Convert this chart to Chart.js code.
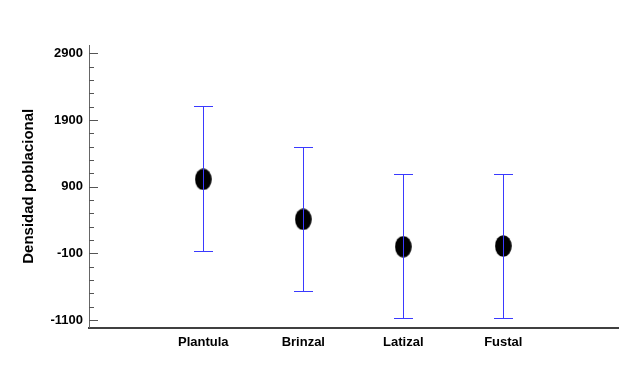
<!DOCTYPE html>
<html>
<head>
<meta charset="utf-8">
<script src="https://cdn.jsdelivr.net/npm/chart.js@4"></script>
<style>
  body { margin: 0; background: #fff; }
</style>
</head>
<body>
<canvas id="chart" width="631" height="392"></canvas>
<script>
const categories = ['Plantula', 'Brinzal', 'Latizal', 'Fustal'];
const means = [1010, 410, 0, 10];
const upper = [2110, 1500, 1085, 1095];
const lower = [-60, -660, -1065, -1065];
const yTicks = [-1100, -100, 900, 1900, 2900];

// black oval marker
const dot = document.createElement('canvas');
dot.width = 17; dot.height = 22;
const dctx = dot.getContext('2d');
dctx.fillStyle = '#000';
dctx.beginPath();
dctx.ellipse(8.5, 11, 8.3, 10.8, 0, 0, 2 * Math.PI);
dctx.fill();

const errorBars = {
  id: 'errorBars',
  afterDatasetsDraw(chart) {
    const { ctx, chartArea, scales: { x, y } } = chart;
    ctx.save();
    ctx.fillStyle = '#3a3aff';
    categories.forEach((c, i) => {
      const px = Math.round(x.getPixelForValue(i + 1));
      const top = Math.round(y.getPixelForValue(upper[i]));
      const bot = Math.round(y.getPixelForValue(lower[i]));
      // whisker and caps as 1px rects
      ctx.fillRect(px, top, 1, bot - top + 1);
      ctx.fillRect(px - 9, top, 19, 1);
      ctx.fillRect(px - 9, bot, 19, 1);
    });

    // tick marks point inward, with 4 minor ones between majors
    ctx.fillStyle = '#555';
    const step = (yTicks[1] - yTicks[0]) / 5;
    const left = chartArea.left;
    yTicks.forEach((v, k) => {
      ctx.fillRect(left, Math.round(y.getPixelForValue(v)), 9, 1);
      if (k < yTicks.length - 1) {
        for (let m = 1; m < 5; m++) {
          ctx.fillRect(left, Math.round(y.getPixelForValue(v + m * step)), 5, 1);
        }
      }
    });
    ctx.restore();
  }
};

new Chart(document.getElementById('chart'), {
  type: 'scatter',
  data: {
    datasets: [{
      data: categories.map((c, i) => ({ x: i + 1, y: means[i] })),
      pointStyle: dot,
      showLine: false
    }]
  },
  plugins: [errorBars],
  options: {
    responsive: false,
    animation: false,
    layout: { padding: { left: 0, top: 45, right: 13, bottom: 0 } },
    plugins: { legend: { display: false }, tooltip: { enabled: false } },
    scales: {
      x: {
        type: 'linear',
        min: -0.143,
        max: 5.147,
        afterFit: (s) => { s.height = 64.5; },
        grid: { display: false, drawTicks: false },
        border: { display: true, color: '#404040', width: 2 },
        ticks: {
          stepSize: 1,
          autoSkip: false,
          maxRotation: 0,
          padding: 7,
          color: '#000',
          font: { family: 'Liberation Sans, Arial', size: 13, weight: 'bold' },
          callback: (v) => categories[v - 1] || ''
        }
      },
      y: {
        min: -1212,
        max: 3025,
        afterBuildTicks: (s) => { s.ticks = yTicks.map(v => ({ value: v })); },
        afterFit: (s) => { s.width = 89; },
        grid: { display: false, drawTicks: false },
        border: { display: true, color: '#666', width: 1 },
        ticks: {
          padding: 6,
          color: '#000',
          font: { family: 'Liberation Sans, Arial', size: 13, weight: 'bold' },
          callback: (v) => String(v)
        },
        title: {
          display: true,
          text: 'Densidad poblacional',
          color: '#000',
          padding: { top: 20, bottom: 0 },
          font: { family: 'Liberation Sans, Arial', size: 15, weight: 'bold' }
        }
      }
    }
  }
});
</script>
</body>
</html>
